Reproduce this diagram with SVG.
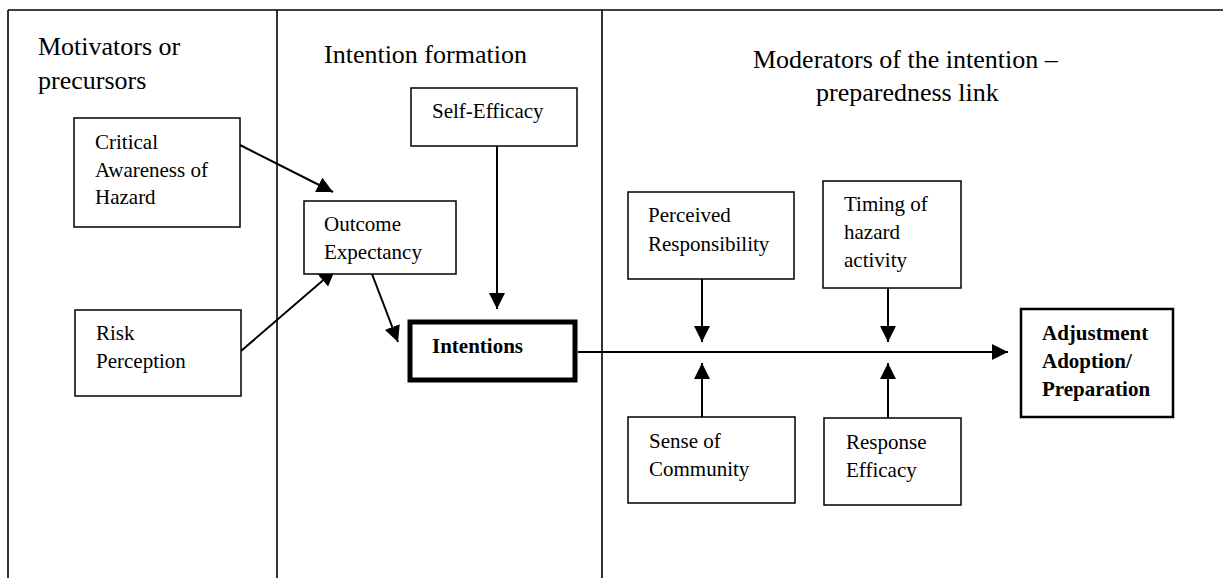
<svg xmlns="http://www.w3.org/2000/svg" width="1223" height="578" viewBox="0 0 1223 578">
<defs>
<marker id="arr" viewBox="0 0 16 16" refX="16" refY="8" markerWidth="16" markerHeight="16" markerUnits="userSpaceOnUse" orient="auto">
<path d="M0,0 L16,8 L0,16 Z" fill="#000"/>
</marker>
</defs>
<style>
.frame{stroke:#000;stroke-width:1.6;fill:none}
.box{fill:#fff;stroke:#000;stroke-width:1.5}
.t{font-family:"Liberation Serif","Times New Roman",serif;font-size:21px;fill:#000}
.b{font-weight:bold}
.h{font-family:"Liberation Serif","Times New Roman",serif;font-size:26px;fill:#000}
.c{stroke:#000;stroke-width:2;fill:none;marker-end:url(#arr)}
</style>
<rect width="1223" height="578" fill="#fff"/>
<g id="frame">
<line class="frame" x1="8" y1="10" x2="1223" y2="10" stroke-width="2"/>
<line class="frame" x1="8" y1="10" x2="8" y2="578"/>
<line class="frame" x1="277" y1="10" x2="277" y2="578"/>
<line class="frame" x1="602" y1="10" x2="602" y2="578"/>
</g>
<g id="headings">
<text class="h" x="38" y="55">Motivators or</text>
<text class="h" x="38" y="89">precursors</text>
<text class="h" x="324" y="63">Intention formation</text>
<text class="h" x="753" y="68">Moderators of the intention –</text>
<text class="h" x="816" y="101">preparedness link</text>
</g>
<g id="connectors">
<line class="c" x1="240" y1="145" x2="333" y2="192"/>
<line class="c" x1="241" y1="351" x2="335" y2="270"/>
<line class="c" x1="372" y1="274" x2="398" y2="342"/>
<line class="c" x1="497" y1="146" x2="497" y2="309"/>
<line class="c" x1="578" y1="352" x2="1008" y2="352"/>
<line class="c" x1="702" y1="279" x2="702" y2="342"/>
<line class="c" x1="702" y1="417" x2="702" y2="363"/>
<line class="c" x1="888" y1="288" x2="888" y2="342"/>
<line class="c" x1="888" y1="418" x2="888" y2="363"/>
</g>
<g id="critical">
<rect class="box" x="74" y="118" width="166" height="109"/>
<text class="t" x="95" y="149">Critical</text>
<text class="t" x="95" y="177">Awareness of</text>
<text class="t" x="95" y="204">Hazard</text>
</g>
<g id="risk">
<rect class="box" x="75" y="310" width="166" height="86"/>
<text class="t" x="96" y="340">Risk</text>
<text class="t" x="96" y="368">Perception</text>
</g>
<g id="outcome">
<rect class="box" x="304" y="201" width="152" height="73"/>
<text class="t" x="324" y="231">Outcome</text>
<text class="t" x="324" y="259">Expectancy</text>
</g>
<g id="selfefficacy">
<rect class="box" x="411" y="88" width="166" height="58"/>
<text class="t" x="432" y="118">Self-Efficacy</text>
</g>
<g id="intentions">
<rect x="410" y="322" width="165" height="58" fill="#fff" stroke="#000" stroke-width="5"/>
<text class="t b" x="432" y="353">Intentions</text>
</g>
<g id="perceived">
<rect class="box" x="628" y="192" width="166" height="87"/>
<text class="t" x="648" y="222">Perceived</text>
<text class="t" x="648" y="251">Responsibility</text>
</g>
<g id="timing">
<rect class="box" x="823" y="181" width="138" height="107"/>
<text class="t" x="844" y="211">Timing of</text>
<text class="t" x="844" y="239">hazard</text>
<text class="t" x="844" y="267">activity</text>
</g>
<g id="sense">
<rect class="box" x="628" y="417" width="167" height="86"/>
<text class="t" x="649" y="448">Sense of</text>
<text class="t" x="649" y="476">Community</text>
</g>
<g id="response">
<rect class="box" x="824" y="418" width="137" height="87"/>
<text class="t" x="846" y="449">Response</text>
<text class="t" x="846" y="477">Efficacy</text>
</g>
<g id="adjustment">
<rect x="1021" y="309" width="152" height="108" fill="#fff" stroke="#000" stroke-width="2.5"/>
<text class="t b" x="1042" y="340">Adjustment</text>
<text class="t b" x="1042" y="368">Adoption/</text>
<text class="t b" x="1042" y="396">Preparation</text>
</g>
</svg>
